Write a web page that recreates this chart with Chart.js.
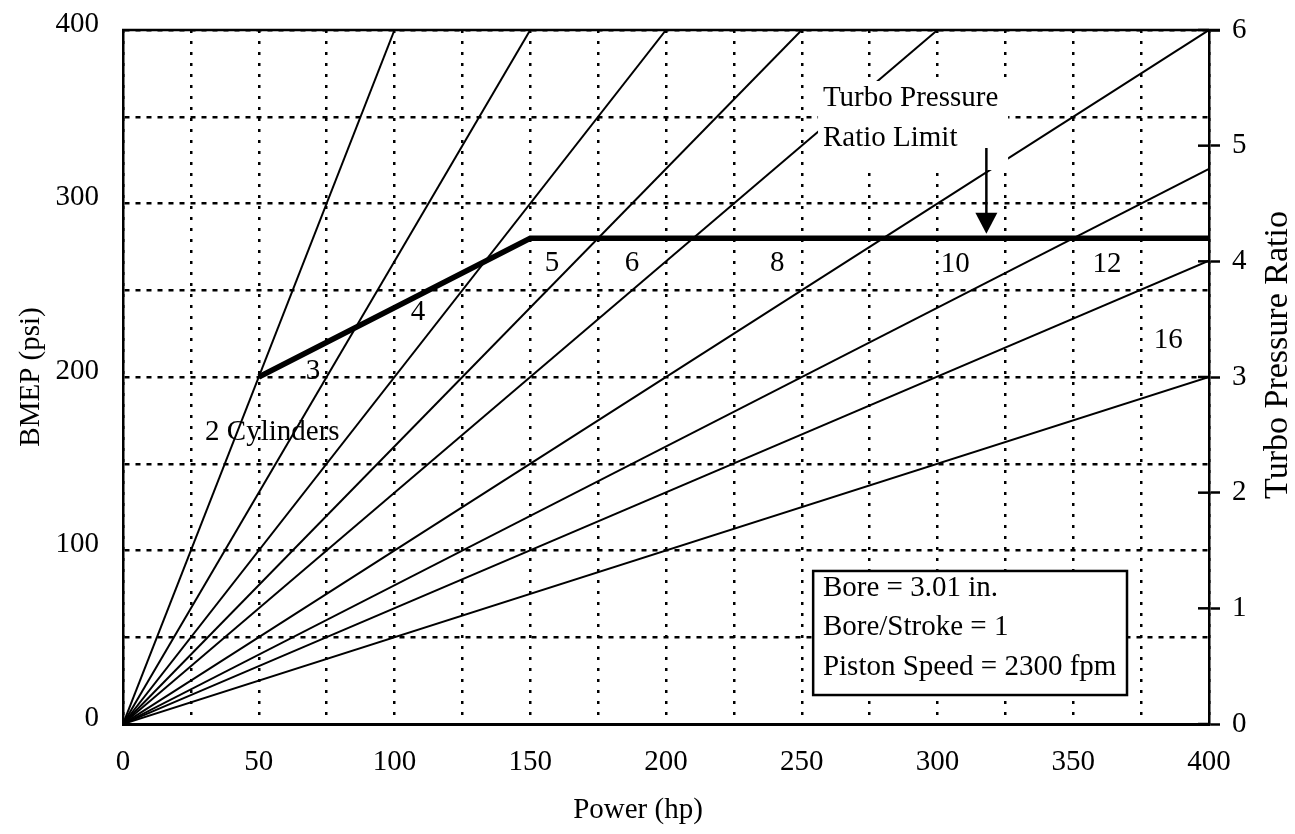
<!DOCTYPE html>
<html><head><meta charset="utf-8">
<script src="https://cdn.jsdelivr.net/npm/chart.js@4.4.1/dist/chart.umd.min.js"></script>
<style>html,body{margin:0;padding:0;background:#fff}#wrap{width:1295px;height:834px;position:relative}</style>
</head><body><div id="wrap"><canvas id="c"></canvas></div>
<script>
// ---- data ----
const cylinderLabels = ['2 Cylinders', '3', '4', '5', '6', '8', '10', '12', '16'];
const lineEndPower = [100, 150, 200, 250, 300, 400, 400, 400, 400];   // hp at end of each cylinder line
const lineEndBmep  = [400, 400, 400, 400, 400, 400, 320, 267, 200];   // psi at end of each cylinder line
const limitPower = [50, 150, 400];     // turbo pressure ratio limit (thick line)
const limitBmep  = [200, 280, 280];
const powerTicks = [0, 50, 100, 150, 200, 250, 300, 350, 400];
const bmepTicks  = [0, 100, 200, 300, 400];
const ratioTicks = [0, 1, 2, 3, 4, 5, 6];
const noteLines = ['Turbo Pressure', 'Ratio Limit'];
const infoLines = ['Bore = 3.01 in.', 'Bore/Stroke = 1', 'Piston Speed = 2300 fpm'];
const xTitle = 'Power (hp)', yTitle = 'BMEP (psi)', y1Title = 'Turbo Pressure Ratio';

// ---- annotation anchors (data units) ----
const labelAnchorPower = [55, 70, 108.7, 158, 187.5, 241, 306.5, 362.4, 385];
const labelAnchorBmep  = [168, 203, 237, 265.5, 265.5, 265.5, 265, 265, 221];
const noteBox = {p0: 256, p1: 326, b0: 319.3, b1: 370.6, textP: 257.8, textB: [360.8, 337.8]};
const arrowAt = {p: 318, bTop: 332, bTip: 282.5};
const infoBox = {p0: 254.2, p1: 369.8, b0: 16.7, b1: 88.2, textP: 257.8, textB: [78.4, 55.9, 32.9]};

const FONT = 'Liberation Serif';
const fs = 29;

const datasets = cylinderLabels.map((lab, i) => ({
  label: lab,
  data: [{x: 0, y: 0}, {x: lineEndPower[i], y: lineEndBmep[i]}],
  borderColor: '#000', borderWidth: 2, pointRadius: 0, tension: 0, order: 2, fill: false
}));
datasets.push({
  label: 'Turbo Pressure Ratio Limit',
  data: limitPower.map((p, i) => ({x: p, y: limitBmep[i]})),
  borderColor: '#000', borderWidth: 5.5, pointRadius: 0, tension: 0, order: 1, fill: false
});

const annot = {
  id: 'annot',
  afterDraw(chart) {
    const {ctx, chartArea: ca, scales: {x, y, y1}} = chart;
    ctx.save();
    ctx.strokeStyle = '#000'; ctx.fillStyle = '#000';
    // top frame line
    ctx.lineWidth = 2.5;
    ctx.beginPath(); ctx.moveTo(ca.left - 1, ca.top); ctx.lineTo(ca.right + 11, ca.top); ctx.stroke();
    // inner half of right-axis tick marks
    y1.ticks.forEach(t => {
      const py = y1.getPixelForValue(t.value);
      ctx.beginPath(); ctx.moveTo(ca.right - 11, py); ctx.lineTo(ca.right, py); ctx.stroke();
    });
    ctx.font = fs + 'px "' + FONT + '"';
    ctx.textBaseline = 'middle';
    // cylinder labels
    ctx.textAlign = 'center';
    cylinderLabels.forEach((s, i) => ctx.fillText(s, x.getPixelForValue(labelAnchorPower[i]), y.getPixelForValue(labelAnchorBmep[i])));
    // note with white backing
    ctx.fillStyle = '#fff';
    ctx.fillRect(x.getPixelForValue(noteBox.p0), y.getPixelForValue(noteBox.b1),
      x.getPixelForValue(noteBox.p1) - x.getPixelForValue(noteBox.p0), y.getPixelForValue(noteBox.b0) - y.getPixelForValue(noteBox.b1));
    ctx.fillStyle = '#000'; ctx.textAlign = 'left';
    noteLines.forEach((s, i) => ctx.fillText(s, x.getPixelForValue(noteBox.textP), y.getPixelForValue(noteBox.textB[i])));
    // arrow
    const ax = x.getPixelForValue(arrowAt.p), at = y.getPixelForValue(arrowAt.bTop), tip = y.getPixelForValue(arrowAt.bTip);
    ctx.lineWidth = 2.5;
    ctx.beginPath(); ctx.moveTo(ax, at); ctx.lineTo(ax, tip - 18); ctx.stroke();
    ctx.beginPath(); ctx.moveTo(ax - 11, tip - 21); ctx.lineTo(ax + 11, tip - 21); ctx.lineTo(ax, tip); ctx.closePath(); ctx.fill();
    // info box
    const bx0 = x.getPixelForValue(infoBox.p0), bx1 = x.getPixelForValue(infoBox.p1);
    const by0 = y.getPixelForValue(infoBox.b1), by1 = y.getPixelForValue(infoBox.b0);
    ctx.fillStyle = '#fff'; ctx.fillRect(bx0, by0, bx1 - bx0, by1 - by0);
    ctx.lineWidth = 2.5; ctx.strokeRect(bx0, by0, bx1 - bx0, by1 - by0);
    ctx.fillStyle = '#000';
    infoLines.forEach((s, i) => ctx.fillText(s, x.getPixelForValue(infoBox.textP), y.getPixelForValue(infoBox.textB[i])));
    // axis titles
    ctx.textAlign = 'center';
    ctx.fillText(xTitle, (ca.left + ca.right) / 2 - 28, 810);
    ctx.save(); ctx.translate(31, (ca.top + ca.bottom) / 2); ctx.rotate(-Math.PI / 2); ctx.fillText(yTitle, 0, 0); ctx.restore();
    ctx.save(); ctx.font = '34px "' + FONT + '"'; ctx.translate(1278, 355); ctx.rotate(-Math.PI / 2); ctx.fillText(y1Title, 0, 0); ctx.restore();
    ctx.restore();
  }
};

const noPadV = s => { s.paddingTop = 0; s.paddingBottom = 0; };

new Chart(document.getElementById('c'), {
  type: 'line',
  data: {datasets},
  options: {
    responsive: true, maintainAspectRatio: false, animation: false,
    layout: {padding: {top: 30, left: 0, right: 0, bottom: 0}},
    plugins: {legend: {display: false}, tooltip: {enabled: false}},
    scales: {
      x: {
        type: 'linear', min: powerTicks[0], max: powerTicks[powerTicks.length - 1],
        afterFit: s => { s.height = 110; s.paddingLeft = 0; s.paddingRight = 0; },
        ticks: {stepSize: 25, color: '#000', padding: 21, font: {family: FONT, size: fs},
          callback: v => powerTicks.includes(v) ? String(v) : '', maxRotation: 0, autoSkip: false},
        grid: {color: '#000', lineWidth: 2.5, drawTicks: false},
        border: {display: true, color: '#000', width: 3, dash: [3, 8]}
      },
      y: {
        type: 'linear', position: 'left', min: bmepTicks[0], max: bmepTicks[bmepTicks.length - 1],
        afterFit: s => { s.width = 123; noPadV(s); },
        ticks: {stepSize: 50, color: '#000', padding: 24, labelOffset: -6, font: {family: FONT, size: fs},
          callback: v => bmepTicks.includes(v) ? String(v) : '', autoSkip: false},
        grid: {color: '#000', lineWidth: 2.5, drawTicks: false},
        border: {display: true, color: '#000', width: 2.5, dash: [5, 6]}
      },
      y1: {
        type: 'linear', position: 'right', min: ratioTicks[0], max: ratioTicks[ratioTicks.length - 1],
        afterFit: s => { s.width = 86; noPadV(s); },
        ticks: {stepSize: 1, color: '#000', padding: 12, font: {family: FONT, size: fs},
          callback: v => ratioTicks.includes(v) ? String(v) : ''},
        grid: {drawOnChartArea: false, drawTicks: true, tickLength: 11, tickWidth: 2.5, tickColor: '#000', color: '#000'},
        border: {display: true, color: '#000', width: 2.5}
      }
    }
  },
  plugins: [annot]
});
</script></body></html>
